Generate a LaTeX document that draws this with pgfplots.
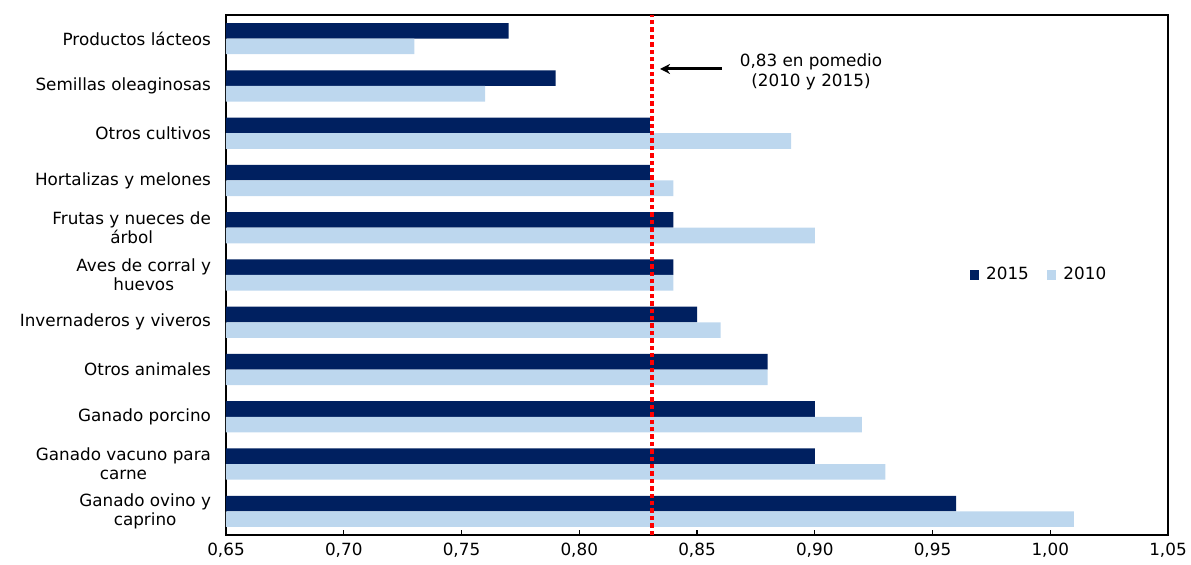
\documentclass[border=0pt]{standalone}
\usepackage{pgfplots}
\pgfplotsset{compat=1.18}
\usepackage{fontspec}
\setmainfont{DejaVu Sans}
\usetikzlibrary{arrows.meta}
\definecolor{azul15}{HTML}{002060}
\definecolor{azul10}{HTML}{BDD7EE}
\definecolor{rojo}{HTML}{FF0000}
\begin{document}
\begin{tikzpicture}[font=\fontsize{8.4bp}{9.5bp}\selectfont]
\useasboundingbox (-113bp,-15bp) rectangle (482.5bp,267.5bp);
\begin{axis}[
scale only axis,
width=471bp, height=260bp,
xmin=0.65, xmax=1.05,
ymin=-0.5, ymax=10.5,
xtick={0.65,0.7,0.75,0.8,0.85,0.9,0.95,1.0,1.05},
xtick pos=bottom,
tick align=inside,
major tick length=2.5bp,
every tick/.style={black, line width=0.6bp},
x tick label style={yshift=-0.5bp, /pgf/number format/use comma, /pgf/number format/fixed, /pgf/number format/fixed zerofill, /pgf/number format/precision=2, /pgf/number format/assume math mode=true},
ytick={0,...,10},
yticklabels={{Ganado ovino y\\caprino},{Ganado vacuno para\\carne},{Ganado porcino},{Otros animales},{Invernaderos y viveros},{Aves de corral y\\huevos},{Frutas y nueces de\\árbol},{Hortalizas y melones},{Otros cultivos},{Semillas oleaginosas},{Productos lácteos}},
y tick label style={align=center, xshift=-4bp},
ytick style={draw=none},
axis line style={line width=0.9bp, black},
legend style={draw=none, fill=none, at={(0.864,0.5)}, anchor=center, legend columns=2,
  /tikz/every odd column/.append style={column sep=1.5bp},
  /tikz/every even column/.append style={column sep=7bp}},
legend image code/.code={\fill[#1] (0bp,-2.4bp) rectangle (4.8bp,2.4bp);},
]
\addplot[xbar, bar width=0.33, bar shift=0.165, fill=azul15, draw=none] coordinates {
(0.96,0) (0.90,1) (0.90,2) (0.88,3) (0.85,4) (0.84,5) (0.84,6) (0.83,7) (0.83,8) (0.79,9) (0.77,10)};
\addplot[xbar, bar width=0.33, bar shift=-0.165, fill=azul10, draw=none] coordinates {
(1.01,0) (0.93,1) (0.92,2) (0.88,3) (0.86,4) (0.84,5) (0.90,6) (0.84,7) (0.89,8) (0.76,9) (0.73,10)};
\legend{2015,2010}
\addplot[rojo, line width=2bp, dash pattern=on 2.2bp off 1.5bp, forget plot] coordinates {(0.831,-0.5) (0.831,10.5)};
\draw[-{Stealth[length=5bp,width=5bp]}, line width=1.5bp] (axis cs:0.8606,9.358) -- (axis cs:0.8343,9.358);
\node[align=center, font=\fontsize{8.4bp}{10bp}\selectfont] at (axis cs:0.8984,9.295) {0,83 en pomedio\\(2010 y 2015)};
\end{axis}
\end{tikzpicture}
\end{document}
